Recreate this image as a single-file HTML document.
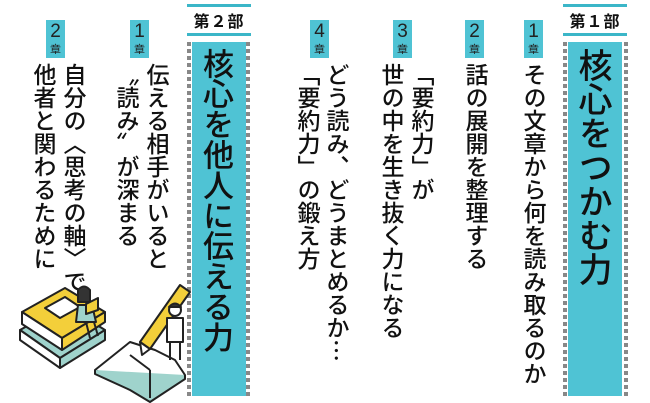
<!DOCTYPE html>
<html><head><meta charset="utf-8"><style>
html,body{margin:0;padding:0;background:#fff;}
body{width:650px;height:403px;position:relative;overflow:hidden;font-family:"Noto Sans CJK JP","Liberation Sans",sans-serif;color:#111;}
.v{position:absolute;writing-mode:vertical-rl;font-size:23px;line-height:1;white-space:nowrap;letter-spacing:0px;font-weight:500;}
.badge{position:absolute;width:19px;height:38px;background:#4fc3d4;text-align:center;color:#222;font-family:"Liberation Sans","Noto Sans CJK JP",sans-serif;}
.badge .n{font-size:19px;line-height:22px;display:block;margin-top:1px;}
.badge .s{font-size:11px;line-height:12px;display:block;font-family:"Noto Sans CJK JP",sans-serif;}
.hdr{position:absolute;width:64px;height:26px;border-top:3px solid #3bb6c8;border-bottom:3px solid #3bb6c8;font-size:16px;line-height:26px;text-align:center;font-weight:bold;letter-spacing:1px;}
.box{position:absolute;width:54px;top:42px;height:354px;background:#4fc3d4;}
.dot{position:absolute;top:42px;height:356px;width:4px;background:repeating-linear-gradient(to bottom,#888 0 4px,transparent 4px 7px);}
.title{position:absolute;writing-mode:vertical-rl;font-size:34px;line-height:1;font-weight:500;}
</style></head><body>

<div class="hdr" style="left:563px;top:4px;">第１部</div>
<div class="dot" style="left:563px;"></div>
<div class="dot" style="left:624px;"></div>
<div class="box" style="left:568px;"></div>
<div class="title" style="left:578px;top:48px;">核心をつかむ力</div>

<div class="badge" style="left:524px;top:20px;"><span class="n">1</span><span class="s">章</span></div>
<div class="v" style="left:523px;top:63px;">その文章から何を読み取るのか</div>

<div class="badge" style="left:465px;top:20px;"><span class="n">2</span><span class="s">章</span></div>
<div class="v" style="left:465px;top:63px;">話の展開を整理する</div>

<div class="badge" style="left:393px;top:20px;"><span class="n">3</span><span class="s">章</span></div>
<div class="v" style="left:411px;top:63px;">「要約力」が</div>
<div class="v" style="left:381px;top:63px;">世の中を生き抜く力になる</div>

<div class="badge" style="left:310px;top:20px;"><span class="n">4</span><span class="s">章</span></div>
<div class="v" style="left:326px;top:63px;">どう読み、どうまとめるか…</div>
<div class="v" style="left:297px;top:63px;">「要約力」の鍛え方</div>

<div class="hdr" style="left:187px;top:4px;">第２部</div>
<div class="dot" style="left:187px;"></div>
<div class="dot" style="left:246px;"></div>
<div class="box" style="left:192px;"></div>
<div class="title" style="left:203px;top:48px;font-size:31px;letter-spacing:-0.6px;">核心を他人に伝える力</div>

<div class="badge" style="left:130px;top:20px;"><span class="n">1</span><span class="s">章</span></div>
<div class="v" style="left:146px;top:63px;">伝える相手がいると</div>
<div class="v" style="left:116px;top:63px;">〝読み〟が深まる</div>

<div class="badge" style="left:46px;top:20px;"><span class="n">2</span><span class="s">章</span></div>
<div class="v" style="left:63px;top:63px;">自分の〈思考の軸〉で</div>
<div class="v" style="left:33px;top:63px;">他者と関わるために</div>

<svg style="position:absolute;left:0;top:250px;" width="200" height="153" viewBox="0 0 200 153">
 <g stroke="#222" stroke-width="2" stroke-linejoin="round">
  <path d="M20 80 L65 55 L105 80 L60 108 Z" fill="#9fd3cc"/>
  <path d="M20 80 L20 90 L60 118 L60 108 Z" fill="#fff"/>
  <path d="M60 108 L105 80 L105 90 L60 118 Z" fill="#9fd3cc"/>
  <path d="M22 62 L65 38 L105 62 L62 88 Z" fill="#f3cf3a"/>
  <path d="M22 62 L22 74 L62 100 L62 88 Z" fill="#fff"/>
  <path d="M62 88 L105 62 L105 72 L62 100 Z" fill="#f3cf3a"/>
  <path d="M45 58 L65 47 L80 57 L60 68 Z" fill="#fff"/>
  <circle cx="84" cy="45" r="6" fill="#fff"/>
  <path d="M78 40 Q84 33 90 40 L90 52 L78 52 Z" fill="#333"/>
  <path d="M78 55 L92 55 L96 72 L76 72 Z" fill="#9fd3cc"/>
  <path d="M86 54 L98 48 L98 60 L86 64 Z" fill="#f3cf3a"/>
  <path d="M86 72 L90 88 M94 72 L98 86" fill="none"/>
  <path d="M95 120 L130 92 L155 100 L175 110 L185 125 L150 148 L130 135 Z" fill="#fff"/>
  <path d="M95 120 L95 124 L130 140 L150 152 L185 129 L185 125" fill="#9fd3cc"/>
  <path d="M130 105 L150 120 M150 120 L150 148" fill="none"/>
  <path d="M140 92 L180 35 L190 42 L150 99 Z" fill="#f3cf3a"/>
  <path d="M140 92 L142 105 L150 99 Z" fill="#fff"/>
  <circle cx="175" cy="60" r="6" fill="#fff"/>
  <path d="M169 57 Q175 50 181 57 Z" fill="#333"/>
  <path d="M167 68 L183 68 L183 92 L167 92 Z" fill="#fff"/>
  <path d="M170 92 L170 110 M180 92 L180 110" fill="none"/>
 </g>
</svg>
</body></html>
